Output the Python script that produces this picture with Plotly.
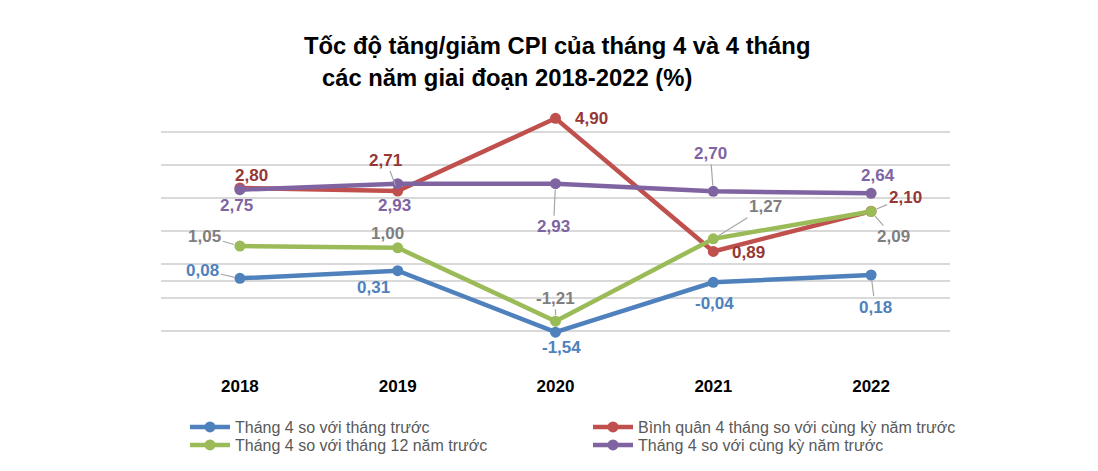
import plotly.graph_objects as go

# ---------------- data ----------------
years = ["2018", "2019", "2020", "2021", "2022"]
m4_vs_prev_month = [0.08, 0.31, -1.54, -0.04, 0.18]       # Tháng 4 so với tháng trước
avg4_vs_last_year = [2.80, 2.71, 4.90, 0.89, 2.10]        # Bình quân 4 tháng so với cùng kỳ năm trước
m4_vs_dec_prev_year = [1.05, 1.00, -1.21, 1.27, 2.09]     # Tháng 4 so với tháng 12 năm trước
m4_vs_last_year = [2.75, 2.93, 2.93, 2.70, 2.64]          # Tháng 4 so với cùng kỳ năm trước

series_names = [
    "Tháng 4 so với tháng trước",
    "Bình quân 4 tháng so với cùng kỳ năm trước",
    "Tháng 4 so với tháng 12 năm trước",
    "Tháng 4 so với cùng kỳ năm trước",
]
title_line1 = "Tốc độ tăng/giảm CPI của tháng 4 và 4 tháng"
title_line2 = "các năm giai đoạn 2018-2022 (%)"

# ---------------- layout (screen px; the page body adds an 8px offset) ----------------
OFF = 8
W, H = 1090, 463
PL, PT, PW, PH = 161, 105, 789, 260          # plot area on screen
ML, MT = PL - OFF, PT - OFF
MR = W - ML - PW
MB = H - MT - PH
FONT = "Liberation Sans, Arial, sans-serif"

styles = {
    "blue":   dict(line="#4F81BD", label="#4F81BD", legend="legend",  lx=185, ly=427),
    "red":    dict(line="#C0504D", label="#953735", legend="legend2", lx=588, ly=427),
    "green":  dict(line="#9BBB59", label="#7F7F7F", legend="legend3", lx=185, ly=445),
    "purple": dict(line="#8064A2", label="#8064A2", legend="legend4", lx=588, ly=445),
}

# label offsets in pixels (dx, dy; dy positive = down), leader flag
label_offsets = {
    "blue":   [(-37, -8, True), (-24, 17, False), (6, 15, False), (1, 21, False), (4, 32, True)],
    "red":    [(12, -13, False), (-12, -31, True), (36, 0, False), (35, 1, False), (34, -14, True)],
    "green":  [(-35, -10, True), (-10, -14, False), (0, -23, True), (52, -32, True), (22, 25, True)],
    "purple": [(-3, 16, False), (-3, 22, False), (-2, 43, True), (-3, -38, True), (7, -18, False)],
}

series = [
    ("red", avg4_vs_last_year, series_names[1]),
    ("green", m4_vs_dec_prev_year, series_names[2]),
    ("blue", m4_vs_prev_month, series_names[0]),
    ("purple", m4_vs_last_year, series_names[3]),
]

fig = go.Figure()
for key, vals, name in series:
    st = styles[key]
    fig.add_trace(go.Scatter(
        x=years, y=vals, name=name, mode="lines+markers",
        line=dict(color=st["line"], width=4.5),
        marker=dict(color=st["line"], size=11),
        legend=st["legend"],
        hoverinfo="skip",
    ))

def fmt(v):
    return f"{v:.2f}".replace(".", ",")

annotations = []
for key, vals, name in series:
    st = styles[key]
    for i, (v, (dx, dy, leader)) in enumerate(zip(vals, label_offsets[key])):
        common = dict(
            x=i, y=v, xref="x", yref="y", text="<b>" + fmt(v) + "</b>",
            font=dict(family=FONT, size=17, color=st["label"]),
        )
        if leader:
            annotations.append(dict(
                **common, showarrow=True, axref="pixel", ayref="pixel",
                ax=dx, ay=dy, arrowhead=0,
                arrowwidth=1.2, arrowcolor="#A6A6A6", standoff=6,
            ))
        else:
            annotations.append(dict(**common, showarrow=False, xshift=dx, yshift=-dy))

def px(xs):
    return (xs - PL) / PW
def py(ys):
    return (PT + PH - ys) / PH

annotations.append(dict(
    x=px(557), y=py(46), xref="paper", yref="paper", text="<b>" + title_line1 + "</b>",
    showarrow=False, xanchor="center", yanchor="middle",
    font=dict(family=FONT, size=23.8, color="#000000"),
))
annotations.append(dict(
    x=px(507), y=py(78), xref="paper", yref="paper", text="<b>" + title_line2 + "</b>",
    showarrow=False, xanchor="center", yanchor="middle",
    font=dict(family=FONT, size=23.8, color="#000000"),
))

legend_common = dict(
    orientation="v", xanchor="left", yanchor="middle",
    font=dict(family=FONT, size=16, color="#595959"),
    bgcolor="rgba(0,0,0,0)", tracegroupgap=0, itemwidth=40,
)
legends = {}
for key in ["blue", "red", "green", "purple"]:
    st = styles[key]
    legends[st["legend"]] = dict(**legend_common, x=px(st["lx"]), y=py(st["ly"]))

fig.update_layout(
    width=W, height=H,
    margin=dict(l=ML, r=MR, t=MT, b=MB, pad=0, autoexpand=False),
    paper_bgcolor="white", plot_bgcolor="white",
    showlegend=True,
    **legends,
    annotations=annotations,
    xaxis=dict(
        type="category", range=[-0.5, 4.5], showgrid=False, zeroline=False,
        showline=False, ticks="outside", ticklen=6, tickcolor="rgba(0,0,0,0)",
        tickangle=0,
        tickfont=dict(family=FONT, size=17, color="#000000"),
        tickprefix="<b>", ticksuffix="</b>",
    ),
    yaxis=dict(
        range=[-2.53, 5.30], tick0=-2.5, dtick=1, showticklabels=False,
        showgrid=True, gridcolor="#D9D9D9", gridwidth=1.5,
        zeroline=True, zerolinecolor="#D9D9D9", zerolinewidth=1.5,
        showline=False, ticks="",
    ),
    hovermode=False,
)

fig.write_html("out.html")
